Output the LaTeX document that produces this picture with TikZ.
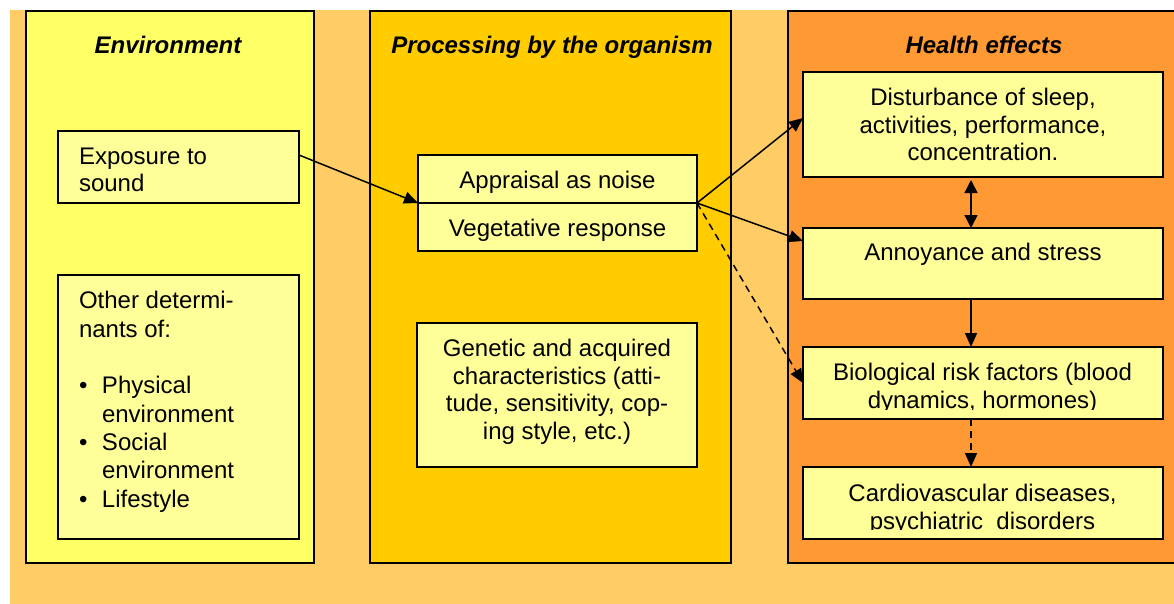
\documentclass[tikz,border=0pt]{standalone}
\usepackage{fontspec}
\setmainfont{Liberation Sans}
\usetikzlibrary{arrows.meta,calc}
\definecolor{bgor}{HTML}{FFCC66}
\definecolor{colA}{HTML}{FFFF66}
\definecolor{colB}{HTML}{FFCC00}
\definecolor{colC}{HTML}{FF9933}
\definecolor{boxY}{HTML}{FFFF99}
\begin{document}
\begin{tikzpicture}[x=1pt,y=-1pt,
  txt/.style={font=\fontsize{24}{27.5}\selectfont, inner sep=0pt, outer sep=0pt},
  ttl/.style={inner sep=0pt, outer sep=0pt, font=\fontsize{24}{27.5}\selectfont\bfseries\itshape, anchor=base},
  colbox/.style={draw=black, line width=1.5pt, anchor=north west, inner sep=0pt, outer sep=0pt},
  ybox/.style={draw=black, line width=1.5pt, fill=boxY, anchor=north west, inner sep=0pt, outer sep=0pt},
  arr/.style={line width=1.5pt, -{Triangle[length=14pt,width=12pt]}},
  darr/.style={arr, dash pattern=on 7pt off 5pt},
  dbl/.style={line width=1.5pt, {Triangle[length=13pt,width=13pt]}-{Triangle[length=13pt,width=13pt]}},
]
\useasboundingbox (0,0) rectangle (1174,603);
\clip (0,0) rectangle (1174,603);
\fill[white] (0,0) rectangle (1174,603);
\fill[bgor] (10,10) rectangle (1180,610);
% columns
\node[colbox, fill=colA, minimum width=288pt, minimum height=552pt] (envcol) at (26,11) {};
\node[colbox, fill=colB, minimum width=361pt, minimum height=552pt] (proccol) at (370,11) {};
\node[colbox, fill=colC, minimum width=420pt, minimum height=552pt] (healcol) at (788,11) {};
% titles
\node[ttl] (t1) at (168,53) {Environment};
\node[ttl] (t2) at (552,53) {Processing by the organism};
\node[ttl] (t3) at (984,53) {Health effects};
% environment boxes
\node[ybox, minimum width=241pt, minimum height=72pt] (expo) at (58,131) {};
\node[txt, anchor=west, align=left] (expotxt) at (79,170) {Exposure to\\sound};
\node[ybox, minimum width=241pt, minimum height=264pt] (oth) at (58,275) {};
\node[txt, font=\fontsize{24}{28.3}\selectfont, anchor=north west, align=left] (othtxt) at (79,291.5)
  {Other determi-\\nants of:\\[28.3pt]
   \makebox[23pt][l]{\textbullet}Physical\\\hspace*{23pt}environment\\
   \makebox[23pt][l]{\textbullet}Social\\\hspace*{23pt}environment\\
   \makebox[23pt][l]{\textbullet}Lifestyle};
% processing boxes
\node[ybox, minimum width=279pt, minimum height=48pt] (app) at (418,155) {};
\node[txt, anchor=base] (apptxt) at (557.5,188) {Appraisal as noise};
\node[ybox, minimum width=279pt, minimum height=48pt] (veg) at (418,203) {};
\node[txt, anchor=base] (vegtxt) at (557.5,236.5) {Vegetative response};
\node[ybox, minimum width=280pt, minimum height=144pt] (gen) at (417,323) {};
\node[txt, anchor=north, align=center] (gentxt) at (557,339.2)
  {Genetic and acquired\\characteristics (atti-\\tude, sensitivity, cop-\\ing style, etc.)};
% health boxes
\node[ybox, minimum width=360pt, minimum height=105pt] (dist) at (803,72) {};
\node[txt, anchor=north, align=center] (disttxt) at (983,88.5)
  {Disturbance of sleep,\\activities, performance,\\concentration.};
\node[ybox, minimum width=360pt, minimum height=71pt] (anno) at (803,228) {};
\node[txt, anchor=base] (annotxt) at (983,260) {Annoyance and stress};
\node[ybox, minimum width=360pt, minimum height=72pt] (bio) at (803,347) {};
\begin{scope}
\clip (804,348) rectangle (1162,409);
\node[txt, anchor=north, align=center] (biotxt) at (982.5,363.2)
  {Biological risk factors (blood\\dynamics, hormones)};
\end{scope}
\node[ybox, minimum width=360pt, minimum height=72pt] (card) at (803,467) {};
\begin{scope}
\clip (804,468) rectangle (1162,529);
\node[txt, anchor=north, align=center] (cardtxt) at (982.5,484.2)
  {Cardiovascular diseases,\\psychiatric~ disorders};
\end{scope}
% connectors
\draw[arr] ([yshift=-24pt]expo.north east) -- (app.south west);
\draw[arr] (app.south east) -- ([yshift=6.5pt]dist.west);
\draw[arr] (app.south east) -- ([yshift=22.5pt]anno.west);
\draw[darr] (app.south east) -- (bio.west);
\draw[dbl] ([xshift=-12pt,yshift=-3pt]dist.south) -- ([xshift=-12pt]anno.north);
\draw[arr] ([xshift=-12pt]anno.south) -- ([xshift=-12pt]bio.north);
\draw[darr] ([xshift=-12pt]bio.south) -- ([xshift=-12pt]card.north);
\end{tikzpicture}
\end{document}
